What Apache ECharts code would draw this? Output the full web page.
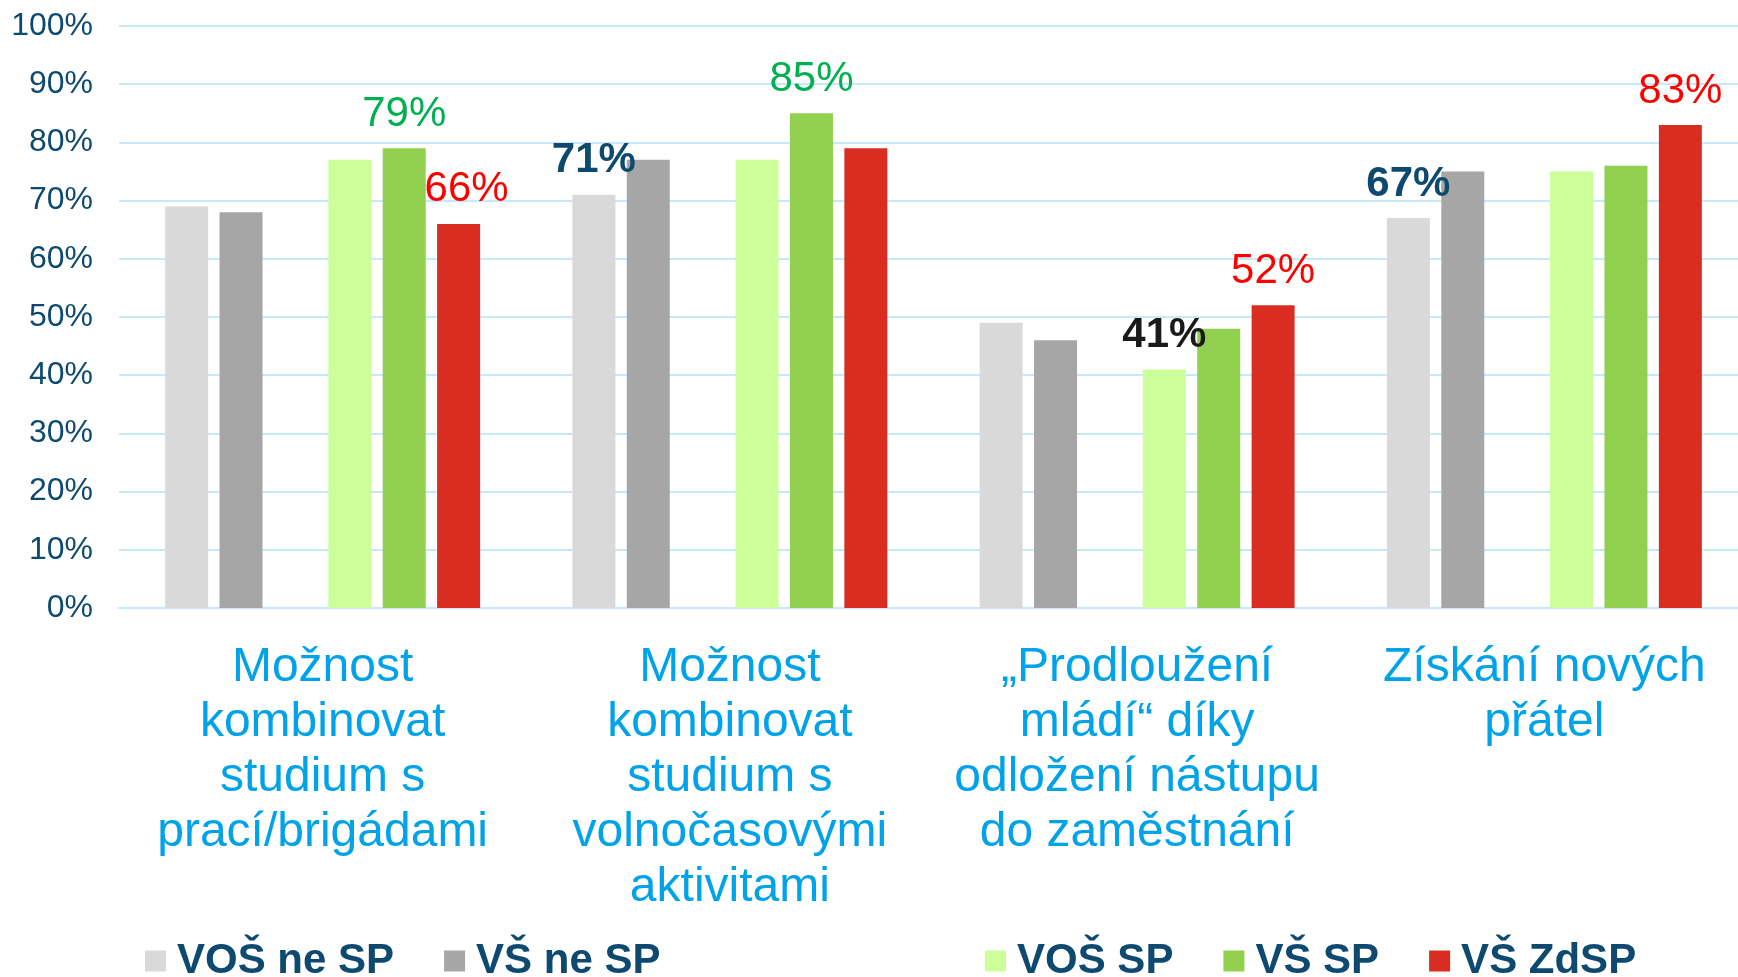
<!DOCTYPE html>
<html>
<head>
<meta charset="utf-8">
<script src="https://cdn.jsdelivr.net/npm/echarts@6/dist/echarts.min.js"></script>
<style>
  html, body { margin: 0; padding: 0; background: #fff; }
  #chart { width: 1738px; height: 977px; }
</style>
</head>
<body>
<div id="chart"></div>
<script>
var categories = [
    'Možnost\nkombinovat\nstudium s\nprací/brigádami',
    'Možnost\nkombinovat\nstudium s\nvolnočasovými\naktivitami',
    '„Prodloužení\nmládí“ díky\nodložení nástupu\ndo zaměstnání',
    'Získání nových\npřátel'
];
var seriesNames = ['VOŠ ne SP', 'VŠ ne SP', 'VOŠ SP', 'VŠ SP', 'VŠ ZdSP'];
var vosNeSP = [69, 71, 49, 67];
var vsNeSP = [68, 77, 46, 75];
var vosSP = [77, 77, 41, 75];
var vsSP = [79, 85, 48, 76];
var vsZdSP = [66, 79, 52, 83];
var yTicks = [0, 10, 20, 30, 40, 50, 60, 70, 80, 90, 100];

var colors = ['#D9D9D9', '#A6A6A6', '#CCFF99', '#92D050', '#D92D21'];
var font = '"Liberation Sans", Arial, sans-serif';
var navy = '#0E4A70';

// which bars carry a value label, and how it looks
var labelStyles = {
    'VŠ SP': { 0: { color: '#00B050' }, 1: { color: '#00B050' } },
    'VŠ ZdSP': { 0: { color: '#FF0000', offset: [8, 0] }, 2: { color: '#FF0000' }, 3: { color: '#FF0000' } },
    'VOŠ ne SP': { 1: { color: navy, fontWeight: 'bold' }, 3: { color: navy, fontWeight: 'bold' } },
    'VOŠ SP': { 2: { color: '#1A1A1A', fontWeight: 'bold' } }
};

function makeData(name, values) {
    var styles = labelStyles[name] || {};
    return values.map(function (v, i) {
        var item = { value: v };
        if (styles[i]) {
            item.label = Object.assign({
                show: true,
                position: 'top',
                distance: 13,
                fontSize: 42,
                fontFamily: font,
                formatter: '{c}%'
            }, styles[i]);
        }
        return item;
    });
}

function barSeries(name, values, color) {
    return {
        name: name,
        type: 'bar',
        barWidth: 43,
        barGap: '26.5%',
        itemStyle: { color: color },
        data: makeData(name, values)
    };
}

var myChart = echarts.init(document.getElementById('chart'));

var legendBase = {
    top: 935,
    icon: 'rect',
    itemWidth: 21,
    itemHeight: 21,
    itemGap: 50,
    textStyle: {
        fontSize: 42,
        fontWeight: 'bold',
        fontFamily: font,
        color: navy,
        padding: [0, 0, 0, 6]
    }
};

var option = {
    animation: false,
    textStyle: { fontFamily: font },
    color: colors,
    legend: [
        Object.assign({ left: 140, data: [seriesNames[0], seriesNames[1]] }, legendBase),
        Object.assign({ left: 980, data: [seriesNames[2], seriesNames[3], seriesNames[4]] }, legendBase)
    ],
    grid: {
        left: 119,
        top: 26,
        width: 1629,
        height: 582,
        containLabel: false,
        outerBoundsMode: 'none'
    },
    xAxis: {
        type: 'category',
        data: categories,
        axisLine: { lineStyle: { color: '#C6E9FB', width: 2 } },
        axisTick: { show: false },
        axisLabel: {
            interval: 0,
            color: '#00A2E8',
            fontSize: 48,
            lineHeight: 55,
            margin: 32,
            fontFamily: font
        }
    },
    yAxis: {
        type: 'value',
        min: yTicks[0],
        max: yTicks[yTicks.length - 1],
        interval: 10,
        axisLine: { show: false },
        axisTick: { show: false },
        splitLine: { lineStyle: { color: '#C6E9FB', width: 2 } },
        axisLabel: {
            formatter: '{value}%',
            color: navy,
            fontSize: 32,
            margin: 26,
            fontFamily: font
        }
    },
    series: [
        barSeries(seriesNames[0], vosNeSP, colors[0]),
        barSeries(seriesNames[1], vsNeSP, colors[1]),
        { name: ' ', type: 'bar', barWidth: 43, barGap: '26.5%', data: [null, null, null, null] },
        barSeries(seriesNames[2], vosSP, colors[2]),
        barSeries(seriesNames[3], vsSP, colors[3]),
        barSeries(seriesNames[4], vsZdSP, colors[4])
    ]
};

myChart.setOption(option);
</script>
</body>
</html>
